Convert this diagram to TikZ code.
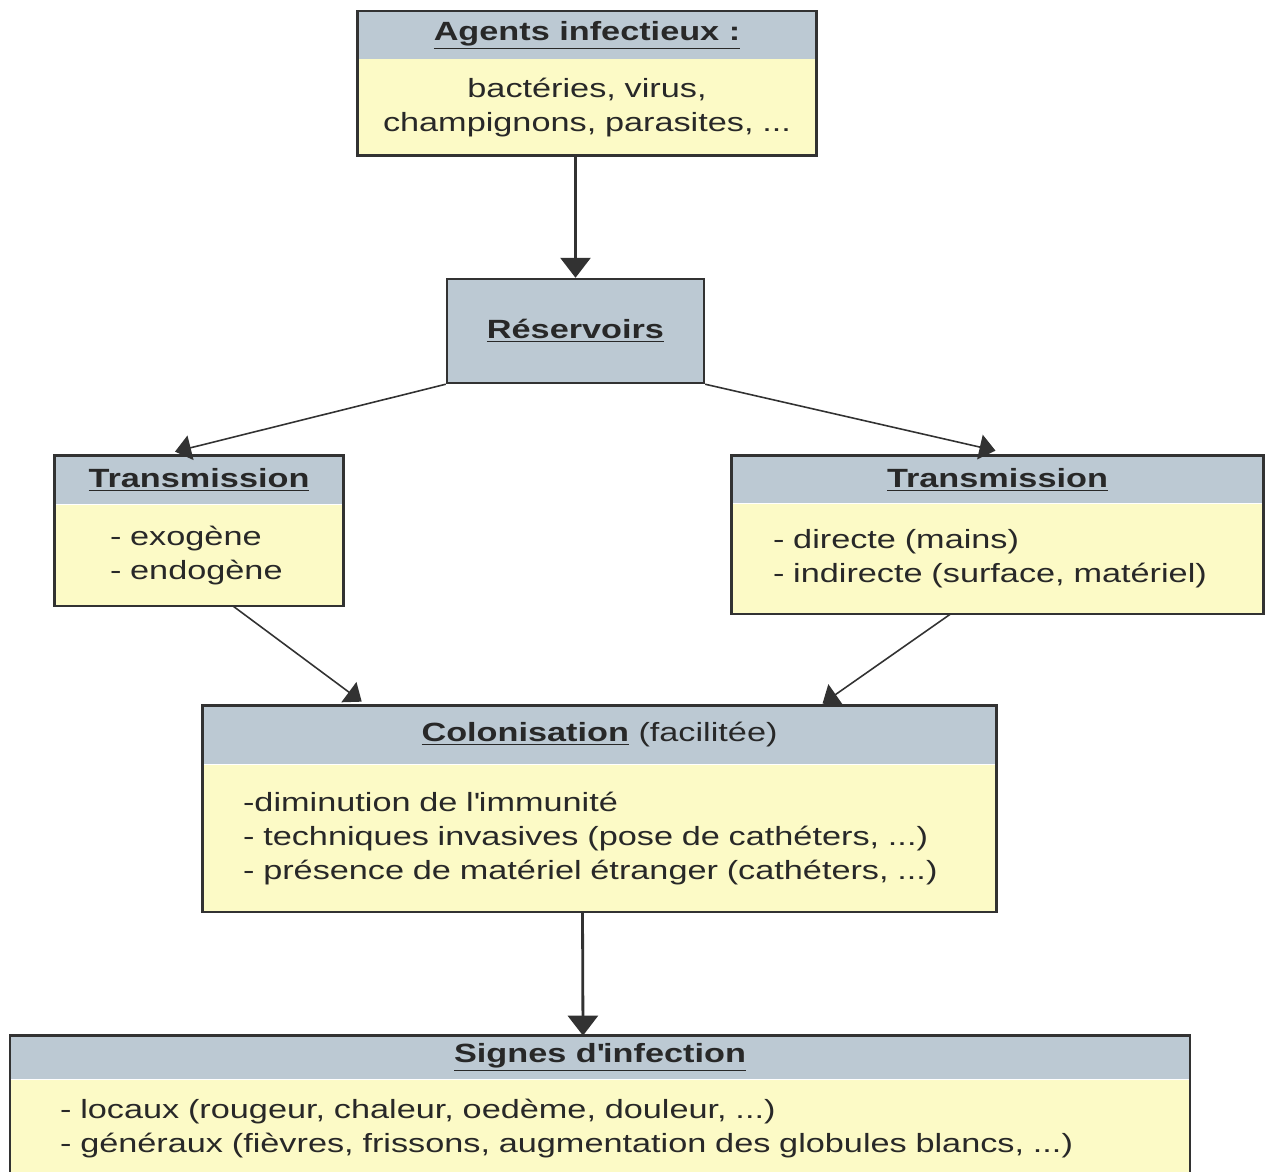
\documentclass[tikz,border=0pt]{standalone}
\usepackage{fontspec}
\setmainfont[FakeStretch=1.3]{Liberation Sans}
\usetikzlibrary{positioning, arrows.meta, calc}
\definecolor{hdrblue}{RGB}{188,201,211}
\definecolor{bodyyel}{RGB}{252,250,198}
\definecolor{boxline}{RGB}{50,50,50}
\definecolor{inktext}{RGB}{40,40,40}

\begin{document}
\begin{tikzpicture}[x=0.02cm, y=-0.02cm, font=\fontsize{15}{19.4}\selectfont,
  >={Triangle[length=4mm, width=6mm]},
  hdr/.style={fill=hdrblue, text=inktext, align=center, inner sep=0pt},
  resbox/.style={hdr, draw=boxline, line width=1.4pt},
  txt/.style={fill=bodyyel, text=inktext, inner ysep=0pt},
  frame/.style={draw=boxline, line width=1.4pt},
  link/.style={->, draw=boxline, line width=1.6pt},
  thinlink/.style={-{Triangle[length=3.2mm, width=5mm]}, draw=boxline, line width=0.9pt}]
  \path[use as bounding box] (0,0) rectangle (1268,1171);
  \clip (0,0) rectangle (1268,1171);
  % agents
  \node[hdr, minimum width=9.16cm, minimum height=0.94cm] (aghead) at (587,35) {\underline{\textbf{Agents infectieux :}}};
  \node[txt, below=0pt of aghead, text width=8.4cm, inner xsep=0.38cm, minimum height=1.92cm, align=center] (agbody) {bactéries, virus,\\champignons, parasites, ...};
  \draw[frame] (aghead.north west) rectangle (agbody.south east);
  % reservoirs
  \node[resbox, minimum width=5.14cm, minimum height=2.08cm] (res) at (575.5,331) {\underline{\textbf{Réservoirs}}};
  % transmission (left / right)
  \node[hdr, minimum width=5.76cm, minimum height=0.96cm] (tlhead) at (199,480) {\underline{\textbf{Transmission}}};
  \node[txt, below=0pt of tlhead, text width=3.56cm, inner xsep=1.1cm, minimum height=2.02cm, align=left] (tlbody) {- exogène\\- endogène};
  \draw[frame] (tlhead.north west) rectangle (tlbody.south east);
  \node[hdr, minimum width=10.62cm, minimum height=0.94cm] (trhead) at (997.5,479.5) {\underline{\textbf{Transmission}}};
  \node[txt, below=0pt of trhead, text width=8.98cm, inner xsep=0.82cm, minimum height=2.2cm, align=left] (trbody) {- directe (mains)\\- indirecte (surface, matériel)};
  \draw[frame] (trhead.north west) rectangle (trbody.south east);
  % colonisation
  \node[hdr, minimum width=15.86cm, minimum height=1.16cm] (colhead) at (599.5,735) {\underline{\textbf{Colonisation}} (facilitée)};
  \node[txt, below=0pt of colhead, text width=14.26cm, inner xsep=0.8cm, minimum height=2.94cm, align=left] (colbody) {-diminution de l\textquotesingle immunité\\- techniques invasives (pose de cathéters, ...)\\- présence de matériel étranger (cathéters, ...)};
  \draw[frame] (colhead.north west) rectangle (colbody.south east);
  % signes
  \node[hdr, minimum width=23.6cm, minimum height=0.86cm] (sghead) at (600,1057.5) {\underline{\textbf{Signes d\textquotesingle infection}}};
  \node[txt, below=0pt of sghead, text width=21.6cm, inner xsep=1cm, minimum height=1.96cm, align=left] (sgbody) {- locaux (rougeur, chaleur, oedème, douleur, ...)\\- généraux (fièvres, frissons, augmentation des globules blancs, ...)};
  \draw[frame] (sghead.north west) rectangle (sgbody.south east);
  % arrows
  \draw[link] (res.north |- agbody.south) -- (res.north);
  \draw[thinlink] (res.south west) -- ($(tlhead.north)+(-24,-4)$);
  \draw[thinlink] (res.south east) -- ($(trhead.north)+(-2,-5)$);
  \draw[thinlink] ($(tlbody.south)+(34,0)$) -- ($(colhead.north west)+(159,-4)$);
  \draw[thinlink] ($(trbody.south)+(-47,0)$) -- ($(colhead.north)+(223,-2)$);
  \draw[link] ($(colbody.south)+(-17,0)$) -- ($(sghead.north)+(-17,0)$);
\end{tikzpicture}
\end{document}
